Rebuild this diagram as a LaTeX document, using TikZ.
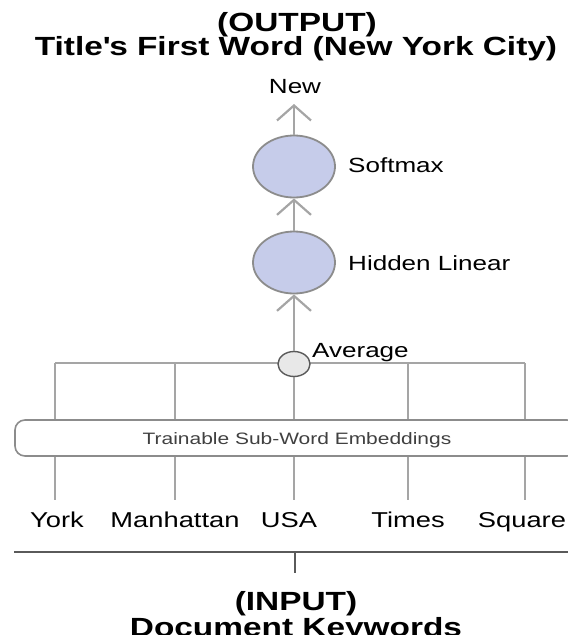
\documentclass[tikz,border=0pt]{standalone}
\usepackage{fontspec}
\setmainfont[FakeStretch=1.27]{Liberation Sans}
\usetikzlibrary{shapes.geometric,arrows.meta}
\definecolor{linegray}{RGB}{165,165,165}
\definecolor{edgegray}{RGB}{140,140,140}
\definecolor{lav}{RGB}{198,204,234}
\definecolor{avgfill}{RGB}{232,232,232}
\definecolor{darkline}{RGB}{90,90,90}
\tikzset{
  conn/.style={draw=linegray, line width=2.2pt},
  arr/.style={conn, -{Straight Barb[length=15pt,width=34pt,line width=2.2pt]}},
  neuron/.style={ellipse, draw=edgegray, line width=1.8pt, fill=lav, minimum width=82pt, minimum height=62pt, inner sep=0pt},
  avgnode/.style={ellipse, draw=darkline, line width=1.4pt, fill=avgfill, minimum width=32pt, minimum height=25pt, inner sep=0pt},
  lbl/.style={font=\fontsize{20.5}{24}\selectfont, inner sep=0pt, anchor=base west},
  word/.style={font=\fontsize{21.5}{26}\selectfont, inner sep=0pt, anchor=base},
  ttl/.style={font=\fontsize{26.3}{30}\selectfont\bfseries, inner sep=0pt, anchor=base},
  embbox/.style={draw=edgegray, line width=1.6pt, rounded corners=10pt, fill=white, minimum height=36pt, inner sep=0pt}
}
\begin{document}
\begin{tikzpicture}[x=1pt,y=-1pt]
\useasboundingbox (0,0) rectangle (568,635);
% titles
\node[ttl] (outlbl) at (297,31) {(OUTPUT)};
\node[ttl] (outttl) at (296,55) {Title\textquotesingle s First Word (New York City)};
\node[lbl, anchor=base] (new) at (295,93) {New};
\coordinate (newtip) at (294,104);
% network
\node[neuron] (soft) at (294,166.5) {};
\node[lbl] (softlbl) at (348,172) {Softmax};
\node[neuron] (hid) at (294,262.5) {};
\node[lbl] (hidlbl) at (348,270) {Hidden Linear};
% bar coordinates
\coordinate (b1) at (55,363);
\coordinate (b2) at (175,363);
\coordinate (b3) at (294,363);
\coordinate (b4) at (408,363);
\coordinate (b5) at (525,363);
% embedding box
\node[embbox, minimum width=562pt] (emb) at (296,438) {};
\node[font=\fontsize{16.5}{20}\selectfont, text=black!75, inner sep=0pt, anchor=base] (embtxt) at (297,444) {Trainable Sub-Word Embeddings};
% words
\node[word] (w1) at (57,527) {York};
\node[word] (w2) at (175,527) {Manhattan};
\node[word] (w3) at (289,527) {USA};
\node[word] (w4) at (408,527) {Times};
\node[word] (w5) at (522,527) {Square};
% lines bar to box
\draw[conn] (b1) -- (b5);
\foreach \i in {1,...,5}{
  \draw[conn] (b\i) -- (b\i |- emb.north);
  \draw[conn] (b\i |- emb.south) -- (b\i |- 0,500);
}
\node[avgnode] (avg) at (294,364) {};
\node[lbl] (avglbl) at (312,357) {Average};
% arrows
\draw[arr] (avg) -- (hid);
\draw[arr] (hid) -- (soft);
\draw[arr] (soft) -- (newtip);
% input
\coordinate (bl) at (14,552);
\coordinate (br) at (575,552);
\coordinate (tick) at (295,552);
\coordinate (tickend) at (295,573);
\draw[draw=darkline, line width=2pt] (bl) -- (br);
\draw[draw=darkline, line width=2pt] (tick) -- (tickend);
\node[ttl] (inlbl) at (296,610) {(INPUT)};
\node[ttl] (inttl) at (296,636) {Document Keywords};
\end{tikzpicture}
\end{document}
